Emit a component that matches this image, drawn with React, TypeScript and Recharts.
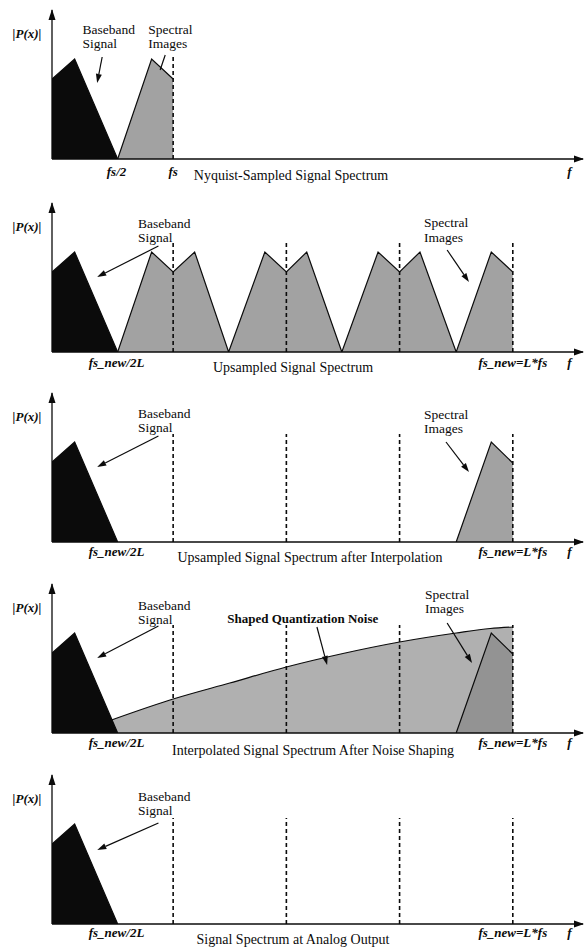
import React from 'react';
import { ComposedChart, Area, XAxis, YAxis, ReferenceLine, ReferenceDot } from 'recharts';

const SERIF = '"Liberation Serif", "Times New Roman", Times, serif';

// frequency in units of the original sample rate fs, magnitude normalised to the baseband peak
const F_MIN = -0.07;
const F_MAX = 4.62;
const P_MAX = 1.49;

const baseband = [
  { f: -0.07, p: 0.8 },
  { f: 0.13, p: 1.0 },
  { f: 0.51, p: 0 },
];

const nyquistImages = [
  { f: 0.51, p: 0 },
  { f: 0.81, p: 1.0 },
  { f: 1.0, p: 0.8 },
];

const upsampledImages = [
  { f: 0.51, p: 0 },
  { f: 0.81, p: 1.0 },
  { f: 1.0, p: 0.8 },
  { f: 1.19, p: 1.0 },
  { f: 1.49, p: 0 },
  { f: 1.81, p: 1.0 },
  { f: 2.0, p: 0.8 },
  { f: 2.18, p: 1.0 },
  { f: 2.49, p: 0 },
  { f: 2.81, p: 1.0 },
  { f: 3.0, p: 0.8 },
  { f: 3.18, p: 1.0 },
  { f: 3.5, p: 0 },
  { f: 3.81, p: 1.0 },
  { f: 4.0, p: 0.8 },
];

const remainingImage = [
  { f: 3.5, p: 0 },
  { f: 3.81, p: 1.0 },
  { f: 4.0, p: 0.79 },
];

const shapedNoise = [
  { f: 0.455, p: 0.13 },
  { f: 1.0, p: 0.34 },
  { f: 1.5, p: 0.5 },
  { f: 2.0, p: 0.66 },
  { f: 2.5, p: 0.795 },
  { f: 3.0, p: 0.91 },
  { f: 3.5, p: 1.0 },
  { f: 3.8, p: 1.045 },
  { f: 4.0, p: 1.06 },
];

const nyquistMarks = [1];
const upsampledMarks = [1, 2, 3, 4];

const nyquistTicks = [
  { f: 0.5, text: 'fs/2' },
  { f: 1, text: 'fs' },
  { f: 4.5, text: 'f' },
];

const upsampledTicks = [
  { f: 0.5, text: 'fs_new/2L' },
  { f: 4, text: 'fs_new=L*fs' },
  { f: 4.5, text: 'f' },
];

const titles = [
  'Nyquist-Sampled Signal Spectrum',
  'Upsampled Signal Spectrum',
  'Upsampled Signal Spectrum after Interpolation',
  'Interpolated Signal Spectrum After Noise Shaping',
  'Signal Spectrum at Analog Output',
];

const BLACK = '#0b0b0b';
const IMAGE_GRAY = '#a2a2a2';
const NOISE_GRAY = '#b0b0b0';
const DARK_IMAGE_GRAY = '#939393';

type Note = { f: number; p: number; lines: string[]; gap: number; bold?: boolean };
type Arrow = { from: [number, number]; to: [number, number]; head?: boolean };
type Fill = { data: { f: number; p: number }[]; fill: string; smooth?: boolean };

const basebandNote = (p: number): Note => ({ f: 0.69, p, lines: ['Baseband', 'Signal'], gap: 14 });

const panels: {
  axisY: number;
  title: string;
  titleX: number;
  titleDy: number;
  tickDy: number;
  ticks: { f: number; text: string }[];
  marks: number[];
  markTop: number;
  fills: Fill[];
  notes: Note[];
  arrows: Arrow[];
}[] = [
  {
    axisY: 159,
    title: titles[0],
    titleX: 291,
    titleDy: 21,
    tickDy: 17,
    ticks: nyquistTicks,
    marks: nyquistMarks,
    markTop: 1.05,
    fills: [
      { data: nyquistImages, fill: IMAGE_GRAY },
      { data: baseband, fill: BLACK },
    ],
    notes: [
      { f: 0.2, p: 1.25, lines: ['Baseband', 'Signal'], gap: 14 },
      { f: 0.78, p: 1.25, lines: ['Spectral', 'Images'], gap: 14 },
    ],
    arrows: [
      { from: [0.373, 1.02], to: [0.329, 0.76], head: true },
      { from: [0.93, 1.04], to: [0.885, 0.89] },
    ],
  },
  {
    axisY: 352,
    title: titles[1],
    titleX: 293,
    titleDy: 20,
    tickDy: 15,
    ticks: upsampledTicks,
    marks: upsampledMarks,
    markTop: 1.09,
    fills: [
      { data: upsampledImages, fill: IMAGE_GRAY },
      { data: baseband, fill: BLACK },
    ],
    notes: [basebandNote(1.24), { f: 3.215, p: 1.25, lines: ['Spectral', 'Images'], gap: 15 }],
    arrows: [
      { from: [0.87, 1.06], to: [0.329, 0.75], head: true },
      { from: [3.42, 1.02], to: [3.613, 0.7], head: true },
    ],
  },
  {
    axisY: 542,
    title: titles[2],
    titleX: 310,
    titleDy: 20,
    tickDy: 14,
    ticks: upsampledTicks,
    marks: upsampledMarks,
    markTop: 1.08,
    fills: [
      { data: remainingImage, fill: IMAGE_GRAY },
      { data: baseband, fill: BLACK },
    ],
    notes: [basebandNote(1.24), { f: 3.215, p: 1.23, lines: ['Spectral', 'Images'], gap: 14 }],
    arrows: [
      { from: [0.87, 1.06], to: [0.329, 0.75], head: true },
      { from: [3.41, 1.0], to: [3.613, 0.7], head: true },
    ],
  },
  {
    axisY: 733,
    title: titles[3],
    titleX: 313,
    titleDy: 22,
    tickDy: 14,
    ticks: upsampledTicks,
    marks: upsampledMarks,
    markTop: 1.08,
    fills: [
      { data: shapedNoise, fill: NOISE_GRAY, smooth: true },
      { data: remainingImage, fill: DARK_IMAGE_GRAY },
      { data: baseband, fill: BLACK },
    ],
    notes: [
      basebandNote(1.23),
      { f: 1.478, p: 1.1, lines: ['Shaped Quantization Noise'], gap: 0, bold: true },
      { f: 3.225, p: 1.34, lines: ['Spectral', 'Images'], gap: 14 },
    ],
    arrows: [
      { from: [0.87, 1.07], to: [0.329, 0.75], head: true },
      { from: [2.27, 1.06], to: [2.36, 0.68], head: true },
      { from: [3.42, 1.1], to: [3.64, 0.7], head: true },
    ],
  },
  {
    axisY: 924,
    title: titles[4],
    titleX: 293,
    titleDy: 20,
    tickDy: 13,
    ticks: upsampledTicks,
    marks: upsampledMarks,
    markTop: 1.06,
    fills: [{ data: baseband, fill: BLACK }],
    notes: [basebandNote(1.23)],
    arrows: [{ from: [0.87, 1.01], to: [0.33, 0.74], head: true }],
  },
];

const arrowShape = (head: boolean) => (props: any) => {
  const { x1, y1, x2, y2 } = props;
  const a = Math.atan2(y2 - y1, x2 - x1);
  const len = 9;
  const half = 3;
  const bx = x2 - len * Math.cos(a);
  const by = y2 - len * Math.sin(a);
  const nx = -Math.sin(a) * half;
  const ny = Math.cos(a) * half;
  return (
    <g>
      <line x1={x1} y1={y1} x2={head ? bx : x2} y2={head ? by : y2} stroke={BLACK} strokeWidth={1.2} />
      {head && <polygon points={`${x2},${y2} ${bx + nx},${by + ny} ${bx - nx},${by - ny}`} fill={BLACK} />}
    </g>
  );
};

const noteShape = (note: Note) => (props: any) => (
  <text
    x={props.cx}
    y={props.cy}
    fontFamily={SERIF}
    fontSize={note.bold ? 13 : 13.5}
    fontWeight={note.bold ? 'bold' : 'normal'}
    fill={BLACK}
  >
    {note.lines.map((line, i) => (
      <tspan key={i} x={props.cx} dy={i === 0 ? 0 : note.gap}>
        {line}
      </tspan>
    ))}
  </text>
);

const upArrowHead = (props: any) => (
  <polygon points={`${props.cx},${props.cy - 1} ${props.cx - 3.5},${props.cy + 10} ${props.cx + 3.5},${props.cy + 10}`} fill={BLACK} />
);

const rightArrowHead = (props: any) => (
  <polygon points={`${props.cx + 1},${props.cy} ${props.cx - 9},${props.cy - 3.5} ${props.cx - 9},${props.cy + 3.5}`} fill={BLACK} />
);

const yLabel = (props: any) => (
  <text
    x={props.cx - 25}
    y={props.cy}
    textAnchor="middle"
    fontFamily={SERIF}
    fontSize={13}
    fontWeight="bold"
    fontStyle="italic"
    fill={BLACK}
  >
    |P(x)|
  </text>
);

const makeTick = (labels: { f: number; text: string }[], dy: number) => (props: any) => {
  const { x, y, payload } = props;
  const item = labels.find((t) => Math.abs(t.f - payload.value) < 1e-6);
  return (
    <text
      x={x}
      y={y + dy}
      textAnchor="middle"
      fontFamily={SERIF}
      fontSize={13}
      fontWeight="bold"
      fontStyle="italic"
      fill={BLACK}
    >
      {item ? item.text : ''}
    </text>
  );
};

const makeTitle = (text: string, cx: number, dy: number) => (props: any) => (
  <text x={cx} y={props.viewBox.y + dy} textAnchor="middle" fontFamily={SERIF} fontSize={14} fill={BLACK}>
    {text}
  </text>
);

function SpectrumPanel({ panel }: { panel: (typeof panels)[number] }) {
  return (
    <div style={{ position: 'absolute', left: 0, top: panel.axisY - 160 }}>
      <ComposedChart width={584} height={190} margin={{ top: 11, right: 1, bottom: 0, left: 52 }}>
        <XAxis
          type="number"
          dataKey="f"
          domain={[F_MIN, F_MAX]}
          allowDataOverflow
          ticks={panel.ticks.map((t) => t.f)}
          interval={0}
          tickLine={false}
          tickSize={0}
          tickMargin={0}
          height={30}
          axisLine={{ stroke: BLACK, strokeWidth: 1.3 }}
          tick={makeTick(panel.ticks, panel.tickDy)}
          label={{ content: makeTitle(panel.title, panel.titleX, panel.titleDy) }}
        />
        <YAxis type="number" domain={[0, P_MAX]} allowDataOverflow width={0} tick={false} tickLine={false} axisLine={false} />
        {panel.fills.map((s, i) => (
          <Area
            key={i}
            data={s.data}
            dataKey="p"
            type={s.smooth ? 'monotone' : 'linear'}
            fill={s.fill}
            fillOpacity={1}
            stroke={BLACK}
            strokeWidth={1.2}
            isAnimationActive={false}
            dot={false}
            activeDot={false}
          />
        ))}
        {panel.marks.map((m) => (
          <ReferenceLine
            key={`m${m}`}
            segment={[
              { x: m, y: 0 },
              { x: m, y: panel.markTop },
            ]}
            stroke={BLACK}
            strokeWidth={1.6}
            strokeDasharray="4 3"
          />
        ))}
        {/* vertical |P(x)| axis */}
        <ReferenceLine
          segment={[
            { x: F_MIN, y: 0 },
            { x: F_MIN, y: P_MAX },
          ]}
          stroke={BLACK}
          strokeWidth={1.3}
        />
        {panel.arrows.map((a, i) => (
          <ReferenceLine
            key={`a${i}`}
            segment={[
              { x: a.from[0], y: a.from[1] },
              { x: a.to[0], y: a.to[1] },
            ]}
            shape={arrowShape(!!a.head)}
          />
        ))}
        {panel.notes.map((n, i) => (
          <ReferenceDot key={`n${i}`} x={n.f} y={n.p} r={0} shape={noteShape(n)} />
        ))}
        <ReferenceDot x={F_MIN} y={1.21} r={0} shape={yLabel} />
        <ReferenceDot x={F_MIN} y={P_MAX} r={0} shape={upArrowHead} />
        <ReferenceDot x={F_MAX} y={0} r={0} shape={rightArrowHead} />
      </ComposedChart>
    </div>
  );
}

export default function App() {
  return (
    <div style={{ position: 'absolute', left: 0, top: 0, width: 584, height: 947, background: '#fff', overflow: 'hidden' }}>
      {panels.map((p, i) => (
        <SpectrumPanel key={i} panel={p} />
      ))}
    </div>
  );
}
